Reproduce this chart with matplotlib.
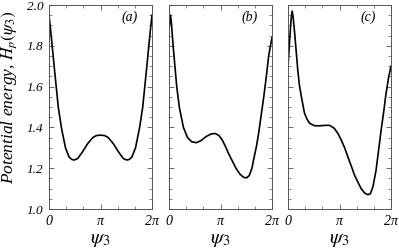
import matplotlib
matplotlib.use("Agg")
import matplotlib.pyplot as plt
import numpy as np
from matplotlib.ticker import MultipleLocator

plt.rcParams['mathtext.fontset'] = 'stix'
plt.rcParams['font.family'] = ['Liberation Serif', 'DejaVu Serif']

# psi_3 / pi and H_p values
psi_a = [0.00, 0.03, 0.05, 0.10, 0.14, 0.18, 0.24, 0.28, 0.32, 0.39, 0.44, 0.49, 0.56, 0.65, 0.75,
         0.85, 0.92, 1.00, 1.08, 1.15, 1.25, 1.35, 1.44, 1.51, 1.56, 1.61, 1.68, 1.72, 1.76,
         1.82, 1.86, 1.90, 1.95, 1.97, 2.00]
h_a = [1.95, 1.88, 1.83, 1.70, 1.60, 1.50, 1.40, 1.35, 1.30, 1.255, 1.243, 1.240, 1.248, 1.28, 1.32,
       1.35, 1.36, 1.362, 1.36, 1.35, 1.32, 1.28, 1.248, 1.240, 1.243, 1.255, 1.30, 1.35, 1.40,
       1.50, 1.60, 1.70, 1.83, 1.88, 1.95]

psi_b = [0.00, 0.03, 0.05, 0.08, 0.115, 0.15, 0.20, 0.28, 0.36, 0.44, 0.53, 0.62, 0.72, 0.82, 0.90,
         0.97, 1.03, 1.09, 1.16, 1.22, 1.30, 1.38, 1.45, 1.51, 1.56, 1.61, 1.65, 1.70, 1.74,
         1.79, 1.84, 1.89, 1.935, 1.97, 2.00]
h_b = [1.88, 1.95, 1.90, 1.80, 1.70, 1.60, 1.50, 1.40, 1.35, 1.33, 1.325, 1.335, 1.355, 1.368, 1.37,
       1.36, 1.34, 1.31, 1.27, 1.24, 1.20, 1.17, 1.155, 1.153, 1.165, 1.20, 1.25, 1.31, 1.37,
       1.46, 1.55, 1.65, 1.75, 1.80, 1.84]

psi_c = [0.00, 0.03, 0.06, 0.08, 0.10, 0.13, 0.16, 0.19, 0.22, 0.26, 0.32, 0.37, 0.42, 0.52, 0.62,
         0.72, 0.81, 0.90, 0.97, 1.03, 1.10, 1.16, 1.23, 1.29, 1.36, 1.42, 1.49, 1.55, 1.60,
         1.65, 1.71, 1.76, 1.81, 1.86, 1.90, 1.95, 2.00]
h_c = [1.70, 1.82, 1.93, 1.97, 1.94, 1.86, 1.77, 1.68, 1.61, 1.55, 1.47, 1.44, 1.42, 1.408, 1.408,
       1.41, 1.41, 1.395, 1.37, 1.34, 1.30, 1.257, 1.21, 1.167, 1.13, 1.10, 1.078, 1.07, 1.075,
       1.11, 1.19, 1.29, 1.39, 1.48, 1.56, 1.64, 1.70]

panels = [(psi_a, h_a, '(a)'), (psi_b, h_b, '(b)'), (psi_c, h_c, '(c)')]
x_ticks = [0, np.pi, 2 * np.pi]
x_ticklabels = ['0', 'π', '2π']
y_ticks = [1.0, 1.2, 1.4, 1.6, 1.8, 2.0]

fig = plt.figure(figsize=(3.99, 2.5), dpi=100)
lefts = [49 / 399, 169 / 399, 288 / 399]
w = 103 / 399
bottom = 41 / 250
h = 204 / 250

for i, (psi, hp, lab) in enumerate(panels):
    ax = fig.add_axes([lefts[i], bottom, w, h])
    ax.plot(np.array(psi) * np.pi, hp, color='black', lw=1.2)
    ax.set_xlim(0, 2 * np.pi)
    ax.set_ylim(1.0, 2.0)
    ax.set_xticks(x_ticks)
    ax.set_xticklabels(x_ticklabels, fontsize=10, style='italic')
    ax.xaxis.set_minor_locator(MultipleLocator(np.pi / 3))
    ax.set_yticks(y_ticks)
    ax.yaxis.set_minor_locator(MultipleLocator(0.05))
    ax.tick_params(which='both', direction='in', top=True, right=True, color='#555555')
    ax.tick_params(which='major', length=3.5, width=0.6, pad=4)
    ax.tick_params(which='minor', length=2, width=0.5)
    for s in ax.spines.values():
        s.set_color('#555555')
        s.set_linewidth(0.7)
    if i == 0:
        ax.set_yticklabels(['%.1f' % v for v in y_ticks], fontsize=9.5, style='italic')
        ax.set_ylabel(r'Potential energy, $H_p(\psi_3)$', fontsize=12.5, style='italic')
        ax.yaxis.set_label_coords(-0.29, 0.55)
    else:
        ax.set_yticklabels([])
    ax.set_xlabel(r'$\psi_3$', fontsize=15, labelpad=2)
    ax.text(0.78, 0.94, lab, transform=ax.transAxes, fontsize=10, style='italic',
            ha='center', va='center')

fig.savefig('out.png', dpi=100)
